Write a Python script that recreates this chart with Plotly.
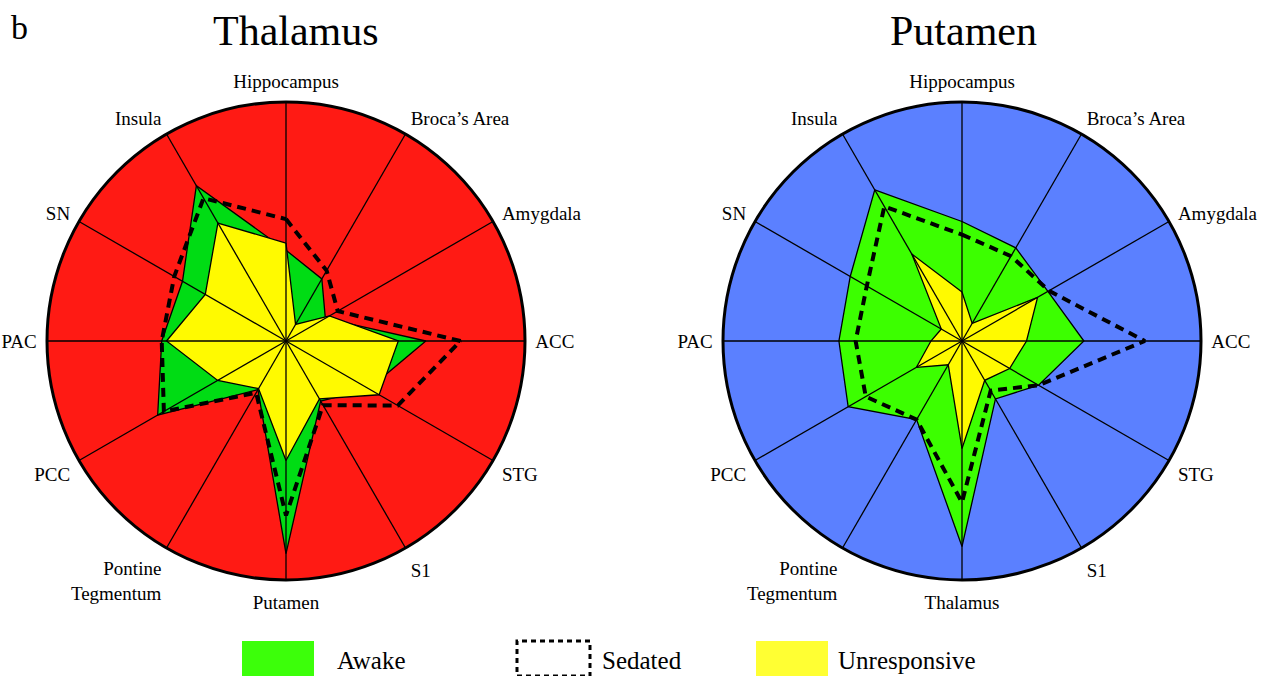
import plotly.graph_objects as go

# Region order, clockwise from the top spoke
regions_thalamus = ["Hippocampus", "Broca’s Area", "Amygdala", "ACC", "STG", "S1",
                    "Putamen", "Pontine<br>Tegmentum", "PCC", "PAC", "SN", "Insula"]
regions_putamen = ["Hippocampus", "Broca’s Area", "Amygdala", "ACC", "STG", "S1",
                   "Thalamus", "Pontine<br>Tegmentum", "PCC", "PAC", "SN", "Insula"]

# Connectivity of the thalamus seed (fraction of the outer ring)
awake_thalamus = [0.38, 0.30, 0.19, 0.585, 0.40, 0.29, 0.89, 0.235, 0.62, 0.52, 0.50, 0.75]
sedated_thalamus = [0.51, 0.34, 0.25, 0.73, 0.54, 0.31, 0.73, 0.25, 0.59, 0.52, 0.54, 0.69]
unresponsive_thalamus = [0.41, 0.08, 0.21, 0.47, 0.45, 0.28, 0.50, 0.23, 0.33, 0.50, 0.39, 0.57]

# Connectivity of the putamen seed
awake_putamen = [0.50, 0.45, 0.415, 0.51, 0.37, 0.28, 0.86, 0.38, 0.55, 0.515, 0.54, 0.73]
sedated_putamen = [0.445, 0.41, 0.42, 0.765, 0.37, 0.24, 0.675, 0.38, 0.465, 0.445, 0.46, 0.65]
unresponsive_putamen = [0.205, 0.085, 0.365, 0.27, 0.23, 0.19, 0.45, 0.115, 0.22, 0.13, 0.10, 0.42]

titles = ["Thalamus", "Putamen"]
legend_labels = ["Awake", "Sedated", "Unresponsive"]

SERIF = "Liberation Serif"
W, H = 1267, 676

fig = go.Figure()


def closed(seq):
    return list(seq) + [seq[0]]


def add_seed(subplot, regions, awake, sedated, unresponsive, awake_color):
    theta = closed(regions)
    fig.add_trace(go.Scatterpolar(
        r=closed(awake), theta=theta, subplot=subplot, mode="lines",
        fill="toself", fillcolor=awake_color,
        line=dict(color="black", width=1.3), showlegend=False, hoverinfo="skip"))
    fig.add_trace(go.Scatterpolar(
        r=closed(unresponsive), theta=theta, subplot=subplot, mode="lines",
        fill="toself", fillcolor="#FFFA00",
        line=dict(color="black", width=1.3), showlegend=False, hoverinfo="skip"))
    # spokes drawn over the filled areas
    spoke_r, spoke_t = [], []
    for reg in regions:
        spoke_r += [0, 1, None]
        spoke_t += [reg, reg, None]
    fig.add_trace(go.Scatterpolar(
        r=spoke_r, theta=spoke_t, subplot=subplot, mode="lines",
        line=dict(color="black", width=1.3), showlegend=False, hoverinfo="skip"))
    fig.add_trace(go.Scatterpolar(
        r=closed(sedated), theta=theta, subplot=subplot, mode="lines",
        line=dict(color="black", width=4, dash="9px,6px"),
        showlegend=False, hoverinfo="skip"))


add_seed("polar", regions_thalamus, awake_thalamus, sedated_thalamus,
         unresponsive_thalamus, "#00DC14")
add_seed("polar2", regions_putamen, awake_putamen, sedated_putamen,
         unresponsive_putamen, "#3CFF00")


def polar_layout(cx, cy, rad, regions, bg):
    return dict(
        domain=dict(x=[(cx - rad) / W, (cx + rad) / W],
                    y=[1 - (cy + rad) / H, 1 - (cy - rad) / H]),
        bgcolor=bg,
        radialaxis=dict(visible=False, range=[0, 1]),
        angularaxis=dict(
            type="category", categoryorder="array", categoryarray=regions,
            rotation=90, direction="clockwise",
            showline=True, linecolor="black", linewidth=3,
            showgrid=False,
            ticks="outside", ticklen=5, tickcolor="rgba(0,0,0,0)",
            tickfont=dict(family=SERIF, size=19, color="black"),
            layer="above traces"),
    )


fig.update_layout(
    width=W, height=H,
    margin=dict(l=0, r=0, t=0, b=0),
    paper_bgcolor="white", plot_bgcolor="white",
    showlegend=False,
    polar=polar_layout(286, 341, 239, regions_thalamus, "#FF1A14"),
    polar2=polar_layout(962, 341, 239, regions_putamen, "#5B80FF"),
)

# Panel letter and titles
fig.add_annotation(x=9 / W, y=1 - 27 / H, xref="paper", yref="paper", text="b",
                   showarrow=False, xanchor="left", yanchor="middle",
                   font=dict(family=SERIF, size=34, color="black"))
for title, cx in zip(titles, [296, 963]):
    fig.add_annotation(x=cx / W, y=1 - 31 / H, xref="paper", yref="paper", text=title,
                       showarrow=False, xanchor="center", yanchor="middle",
                       font=dict(family=SERIF, size=42, color="black"))

# Legend swatches and labels
swatches = [
    dict(x0=242, x1=314, fill="#3CFF0A", dash=None),
    dict(x0=517, x1=590, fill="rgba(0,0,0,0)", dash="5px,4px"),
    dict(x0=756, x1=828, fill="#FFFF33", dash=None),
]
text_x = [335, 600, 836]
for sw, label, tx in zip(swatches, legend_labels, text_x):
    line = dict(width=0) if sw["dash"] is None else dict(color="black", width=3, dash=sw["dash"])
    fig.add_shape(type="rect", xref="paper", yref="paper",
                  x0=sw["x0"] / W, x1=sw["x1"] / W,
                  y0=1 - 676 / H, y1=1 - 641 / H,
                  fillcolor=sw["fill"], line=line)
    fig.add_annotation(x=tx / W, y=1 - 660 / H, xref="paper", yref="paper", text=label,
                       showarrow=False, xanchor="left", yanchor="middle",
                       font=dict(family=SERIF, size=25, color="black"))

fig.write_html("out.html")
